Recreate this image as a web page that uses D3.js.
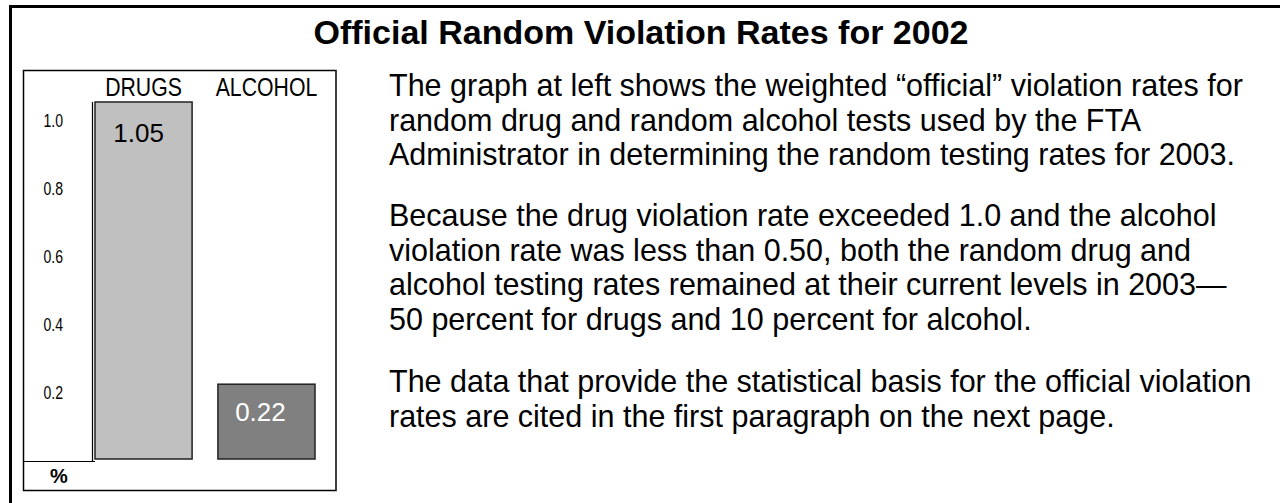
<!DOCTYPE html>
<html>
<head>
<meta charset="utf-8">
<script src="https://cdn.jsdelivr.net/npm/d3@7"></script>
<style>
  body { margin: 0; background: #fff; }
  svg { display: block; }
</style>
</head>
<body>
<script>
// chart data
const categories = ["DRUGS", "ALCOHOL"];
const rates = [1.05, 0.22];
const barColors = ["#c0c0c0", "#808080"];
const labelColors = ["#000", "#fff"];
const tickValues = [0.2, 0.4, 0.6, 0.8, 1.0];

const title = "Official Random Violation Rates for 2002";
const paragraphs = [
  ["The graph at left shows the weighted \u201Cofficial\u201D violation rates for",
   "random drug and random alcohol tests used by the FTA",
   "Administrator in determining the random testing rates for 2003."],
  ["Because the drug violation rate exceeded 1.0 and the alcohol",
   "violation rate was less than 0.50, both the random drug and",
   "alcohol testing rates remained at their current levels in 2003\u2014",
   "50 percent for drugs and 10 percent for alcohol."],
  ["The data that provide the statistical basis for the official violation",
   "rates are cited in the first paragraph on the next page."]
];

const W = 1280, H = 503;
const sans = "'Liberation Sans', Arial, Helvetica, sans-serif";
// the chart labels use a narrow face; squeeze Liberation Sans to get it
const narrowX = 0.85;
const tickX = 0.78;

const svg = d3.select("body").append("svg")
  .attr("width", W)
  .attr("height", H);

// outer frame (top + left only)
svg.append("path")
  .attr("d", `M10.5,${H} V6.5 H${W}`)
  .attr("fill", "none")
  .attr("stroke", "#000")
  .attr("stroke-width", 3);

svg.append("text")
  .attr("x", 641)
  .attr("y", 44)
  .attr("text-anchor", "middle")
  .style("font-family", sans)
  .style("font-weight", "bold")
  .style("font-size", "34px")
  .text(title);

// chart box
svg.append("rect")
  .attr("x", 23.5)
  .attr("y", 70.5)
  .attr("width", 312.5)
  .attr("height", 420)
  .attr("fill", "none")
  .attr("stroke", "#000")
  .attr("stroke-width", 1.5);

const x = d3.scaleBand()
  .domain(categories)
  .range([95, 315])
  .paddingInner(0.21);

const y = d3.scaleLinear()
  .domain([0, 1])
  .range([459, 119]);

// y axis labels only
const yAxis = svg.append("g")
  .attr("transform", "translate(93,0)")
  .call(d3.axisLeft(y).tickValues(tickValues).tickSize(0).tickPadding(30).tickFormat(d3.format(".1f")));
yAxis.select(".domain").remove();
yAxis.selectAll("text")
  .attr("x", -30 / tickX)
  .attr("dy", "0.4em")
  .attr("transform", `scale(${tickX},1)`)
  .style("font-family", sans)
  .style("font-size", "18px")
  .attr("fill", "#000");

// category labels on top
svg.append("g")
  .selectAll("text")
  .data(categories)
  .join("text")
  .attr("transform", (d) => `translate(${x(d) + x.bandwidth() / 2},96) scale(${narrowX},1)`)
  .attr("text-anchor", "middle")
  .style("font-family", sans)
  .style("font-size", "25px")
  .text((d) => d);

// bars
svg.append("g")
  .selectAll("rect")
  .data(rates)
  .join("rect")
  .attr("x", (d, i) => x(categories[i]))
  .attr("y", (d) => y(d))
  .attr("width", x.bandwidth())
  .attr("height", (d) => y(0) - y(d))
  .attr("fill", (d, i) => barColors[i])
  .attr("stroke", "#222")
  .attr("stroke-width", 1.5);

// axis line and the short rule above "%"
svg.append("line")
  .attr("x1", 92.5).attr("x2", 92.5)
  .attr("y1", y(rates[0])).attr("y2", 461.5)
  .attr("stroke", "#000").attr("stroke-width", 1.2);
svg.append("line")
  .attr("x1", 23.5).attr("x2", 95)
  .attr("y1", 461.5).attr("y2", 461.5)
  .attr("stroke", "#000").attr("stroke-width", 1.2);

svg.append("text")
  .attr("x", 59)
  .attr("y", 483)
  .attr("text-anchor", "middle")
  .style("font-family", sans)
  .style("font-weight", "bold")
  .style("font-size", "20px")
  .text("%");

// value labels inside bars
svg.append("g")
  .selectAll("text")
  .data(rates)
  .join("text")
  .attr("x", (d, i) => x(categories[i]) + x.bandwidth() / 2 + (i === 0 ? -5 : -6))
  .attr("y", (d, i) => i === 0 ? y(d) + 40 : y(d) + 37)
  .attr("text-anchor", "middle")
  .style("font-family", sans)
  .style("font-size", "26px")
  .attr("fill", (d, i) => labelColors[i])
  .text((d) => d3.format(".2f")(d));

// text beside the chart
const lineH = 34.6;
const paraTop = [96, 226, 392];
const body = svg.append("g")
  .style("font-family", sans)
  .style("font-size", "30.5px")
  .attr("fill", "#000");
paragraphs.forEach((lines, p) => {
  lines.forEach((line, i) => {
    body.append("text")
      .attr("x", 389)
      .attr("y", paraTop[p] + i * lineH)
      .text(line);
  });
});
</script>
</body>
</html>
